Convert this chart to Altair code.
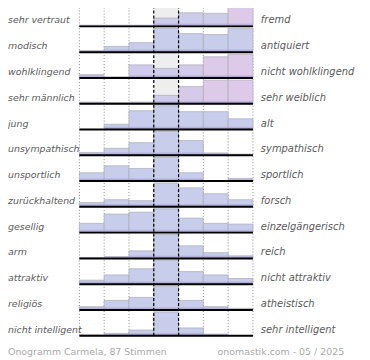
import altair as alt
import pandas as pd

left_labels = ["sehr vertraut", "modisch", "wohlklingend", "sehr männlich", " jung",
               "unsympathisch", "unsportlich", "zurückhaltend", "gesellig", "arm",
               "attraktiv", "religiös", "nicht intelligent"]
right_labels = ["fremd", "antiquiert", "nicht wohlklingend", "sehr weiblich", "alt",
                "sympathisch", "sportlich", "forsch", "einzelgängerisch", "reich",
                "nicht attraktiv", "atheistisch", "sehr intelligent"]

# bar heights per row, 7 steps, in percent of the tallest possible bar
heights = [
    [5, 5, 5, 35, 57, 55, 100],
    [7, 24, 40, 100, 78, 74, 99],
    [14, 5, 55, 40, 55, 89, 99],
    [7, 5, 7, 35, 72, 99, 99],
    [0, 22, 79, 100, 75, 75, 45],
    [12, 29, 53, 100, 62, 10, 5],
    [35, 64, 53, 100, 35, 0, 11],
    [18, 30, 26, 100, 80, 55, 30],
    [39, 78, 86, 100, 61, 39, 36],
    [4, 8, 32, 100, 53, 24, 11],
    [17, 39, 65, 100, 53, 39, 24],
    [14, 40, 53, 100, 40, 14, 7],
    [4, 10, 24, 100, 33, 7, 0],
]
# colour tone of each bar (0 = blue, 1 = pink)
tones = [
    [0, 0, 0, 0.3, 0.3, 0.3, 1],
    [0, 0, 0, 0, 0, 0, 0],
    [0.3, 0.3, 0.4, 0.3, 0.5, 1, 1],
    [0.3, 0.3, 0.3, 0.3, 0.7, 1, 1],
    [0, 0, 0, 0, 0, 0, 0],
    [0, 0, 0, 0, 0, 0, 0],
    [0, 0, 0, 0, 0, 0, 0],
    [0, 0, 0, 0, 0, 0, 0],
    [0, 0, 0, 0, 0, 0, 0],
    [0, 0, 0, 0, 0, 0, 0],
    [0, 0, 0, 0, 0, 0, 0],
    [0, 0, 0, 0, 0, 0, 0],
    [0, 0, 0, 0, 0, 0, 0],
]
footer_left = "Onogramm Carmela, 87 Stimmen"
footer_right = "onomastik.com - 05 / 2025"

n_rows = len(left_labels)
n_cols = 7
bar_frac = 24 / 26   # tallest bar relative to row height
strip_frac = 3.5 / 26

rows = []
for i in range(n_rows):
    base = n_rows - 1 - i
    for j in range(n_cols):
        h = heights[i][j] / 100 * bar_frac
        rows.append(dict(row=i, col=j, x0=j, x1=j + 1, base=base, top=base + h,
                         stop=base + min(h, strip_frac), tone=tones[i][j],
                         h=heights[i][j]))
bars = pd.DataFrame(rows)
bars_nz = bars[bars.h > 0]

labels = pd.DataFrame(dict(left=left_labels, right=right_labels,
                           base=[n_rows - 1 - i for i in range(n_rows)]))

xs = alt.Scale(domain=[0, n_cols], nice=False, zero=False)
ys = alt.Scale(domain=[0, n_rows], range=[329, -9], nice=False, zero=False)

def X(f):
    return alt.X(f, type="quantitative", scale=xs, axis=None)

def Y(f):
    return alt.Y(f, type="quantitative", scale=ys, axis=None)

center = alt.Chart(pd.DataFrame(dict(a=[3], b=[4], c=[0], d=[n_rows]))).mark_rect(
    color="#eeeeee").encode(x=X("a"), x2="b", y=Y("c"), y2="d")

dotted = alt.Chart(pd.DataFrame(dict(x=[0, 1, 2, 5, 6, 7], y0=0, y1=n_rows))).mark_rule(
    color="#8a8a8a", strokeDash=[1, 2], strokeWidth=1).encode(x=X("x"), y=Y("y0"), y2="y1")

main = alt.Chart(bars_nz).mark_rect(stroke="#acacb6", strokeWidth=0.7).encode(
    x=X("x0"), x2="x1", y=Y("base"), y2="top",
    color=alt.Color("tone:Q", scale=alt.Scale(domain=[0, 1], range=["#c7cdea", "#ddc9e8"]),
                    legend=None))

strip = alt.Chart(bars_nz).mark_rect(
    color={"gradient": "linear", "x1": 0, "y1": 0, "x2": 0, "y2": 1,
           "stops": [{"offset": 0, "color": "rgba(160,148,202,0)"},
                     {"offset": 1, "color": "#a094c8"}]}).encode(
    x=X("x0"), x2="x1", y=Y("base"), y2="stop")

dashed = alt.Chart(pd.DataFrame(dict(x=[3, 4], y0=0, y1=n_rows))).mark_rule(
    color="#000000", strokeDash=[3, 2], strokeWidth=1.2).encode(x=X("x"), y=Y("y0"), y2="y1")

baselines = alt.Chart(labels).mark_rule(color="#000000", strokeWidth=2).encode(
    x=alt.X("a:Q", scale=xs, axis=None), x2="b:Q", y=Y("base")).transform_calculate(a="0", b=str(n_cols))

left_text = alt.Chart(labels).mark_text(
    font="DejaVu Sans", fontStyle="italic", fontSize=9.5, color="#5a5a5a",
    align="left", baseline="alphabetic", dx=-72, dy=-3).encode(
    x=alt.X("a:Q", scale=xs, axis=None), y=Y("base"), text="left:N").transform_calculate(a="0")

right_text = alt.Chart(labels).mark_text(
    font="DejaVu Sans", fontStyle="italic", fontSize=10, color="#5a5a5a",
    align="left", baseline="alphabetic", dx=8, dy=-3).encode(
    x=alt.X("a:Q", scale=xs, axis=None), y=Y("base"), text="right:N").transform_calculate(a=str(n_cols))

foot = pd.DataFrame(dict(t=[footer_left, footer_right], x=[0, n_cols], y=[0, 0]))
foot_l = alt.Chart(foot.iloc[[0]]).mark_text(
    font="DejaVu Sans", fontSize=9.5, color="#aaaaaa", align="left",
    baseline="alphabetic", dx=-72, dy=19).encode(x=X("x"), y=Y("y"), text="t:N")
foot_r = alt.Chart(foot.iloc[[1]]).mark_text(
    font="DejaVu Sans", fontSize=9.5, color="#aaaaaa", align="right",
    baseline="alphabetic", dx=92, dy=19).encode(x=X("x"), y=Y("y"), text="t:N")

chart = alt.layer(center, dotted, main, strip, dashed, baselines,
                  left_text, right_text, foot_l, foot_r).properties(
    width=175, height=330,
    autosize=alt.AutoSizeParams(type="none"),
    padding={"left": 72, "top": 0, "right": 110, "bottom": 32},
).configure_view(stroke=None)

chart.save("out.html", embed_options={"renderer": "svg", "actions": False})
